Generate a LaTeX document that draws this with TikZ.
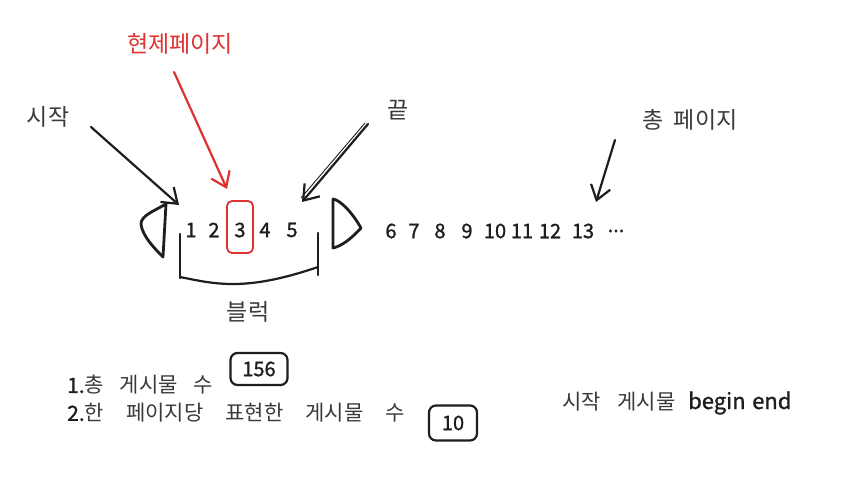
\documentclass[tikz,border=0pt]{standalone}
\usepackage{fontspec}
\setmainfont{Noto Sans CJK KR}
\newfontfamily\handfont[FakeBold=1.2]{Noto Sans CJK KR}
\usetikzlibrary{arrows.meta,calc}
\definecolor{sketchred}{HTML}{E03131}
\definecolor{ink}{HTML}{1E1E1E}
\definecolor{greytext}{HTML}{3A3A3A}
\tikzset{
  kor/.style={inner sep=0pt, text=greytext, font=\fontsize{23}{27}\selectfont},
  korsmall/.style={inner sep=0pt, text=greytext, font=\fontsize{21}{25}\selectfont},
  num/.style={inner sep=0pt, text=ink, font=\handfont\fontsize{20}{24}\selectfont},
  sk/.style={draw=ink, line width=2.2pt, line cap=round, line join=round},
  skarrow/.style={sk, -{Straight Barb[length=14pt,width=20pt,line width=2.2pt]}},
  numbox/.style={draw=ink, line width=2.2pt, rounded corners=7pt, inner sep=0pt,
    font=\handfont\fontsize{20}{24}\selectfont, text=ink}
}
\newcommand{\wsp}{\hspace{0.45em}}
\newcommand{\bsp}{\hspace{0.75em}}
\newcommand{\csp}{\hspace{1.05em}}
\begin{document}
\begin{tikzpicture}[x=1pt,y=-1pt]
\useasboundingbox[fill=white] (0,0) rectangle (852,484);

% labels
\node[kor, text=sketchred] (cur) at (180,44) {현제페이지};
\node[kor] (start) at (48,117) {시작};
\node[kor] (endl) at (398,110) {끝};
\node[kor] (total) at (690,120) {총\wsp 페이지};
\node[kor] (block) at (248,312) {블럭};

% arrow endpoints
\coordinate (curA) at (174,72);
\coordinate (curB) at (227,189);
\coordinate (startA) at (91,127);
\coordinate (startB) at (179,205);
\coordinate (endA) at (368,124);
\coordinate (endB) at (302,202);
\coordinate (totA) at (615,140);
\coordinate (totB) at (596,202);

\draw[skarrow, draw=sketchred] (curA) -- (curB);
\draw[skarrow] (startA) -- (startB);
\draw[skarrow] (endA) -- (endB);
\draw[line width=0.9pt, draw=ink] ($(endA)+(-3,-1)$) -- ($(endB)+(-1,-4)$);
\draw[skarrow] (totA) -- (totB);

% triangles
\draw[sk, line width=2.8pt] (166,204) .. controls (152,212) and (141,216) .. (141,224)
  .. controls (142,236) and (156,250) .. (163,257) -- cycle;
\draw[sk, line width=2.8pt] (333,199) .. controls (340,200) and (352,212) .. (361,228)
  .. controls (352,238) and (342,246) .. (333,248) -- cycle;

% numbers 1-5
\node[num] (n1) at (191,230) {1};
\node[num] (n2) at (214,230) {2};
\node[num] (n3) at (240,230) {3};
\node[num] (n4) at (265,230) {4};
\node[num] (n5) at (292,230) {5};
\draw[draw=sketchred, line width=1.8pt, rounded corners=5pt] (227,201) rectangle (253,253);

% bracket
\draw[sk] (180,234) -- (180,278);
\draw[sk] (318,233) -- (318,275);
\draw[sk] (180,277) .. controls (215,284) and (245,292) .. (318,267);

% numbers 6-13
\node[num] (n6) at (391,231) {6};
\node[num] (n7) at (414,231) {7};
\node[num] (n8) at (440,231) {8};
\node[num] (n9) at (467,231) {9};
\node[num] (n10) at (495,231) {10};
\node[num] (n11) at (522,231) {11};
\node[num] (n12) at (550,231) {12};
\node[num] (n13) at (583,231) {13};
\node[num] (ndots) at (616,231) {...};

% bottom texts
\node[korsmall, anchor=west] (l1) at (67,385) {{\handfont\color{ink}1.}총\bsp 게시물\bsp 수};
\node[korsmall, anchor=west] (l2) at (67,413) {{\handfont\color{ink}2.}한\csp 페이지당\csp 표현한\csp 게시물\csp 수};
\node[numbox, minimum width=57pt, minimum height=32pt] (b156) at (259,369) {156};
\node[numbox, minimum width=48pt, minimum height=35pt] (b10) at (453,423) {10};

\node[korsmall, anchor=west] (se) at (562,403) {시작\hspace{0.8em}게시물\hspace{0.6em}{\handfont\color{ink}\fontsize{22}{26}\selectfont begin\hspace{0.3em}end}};
\end{tikzpicture}
\end{document}
